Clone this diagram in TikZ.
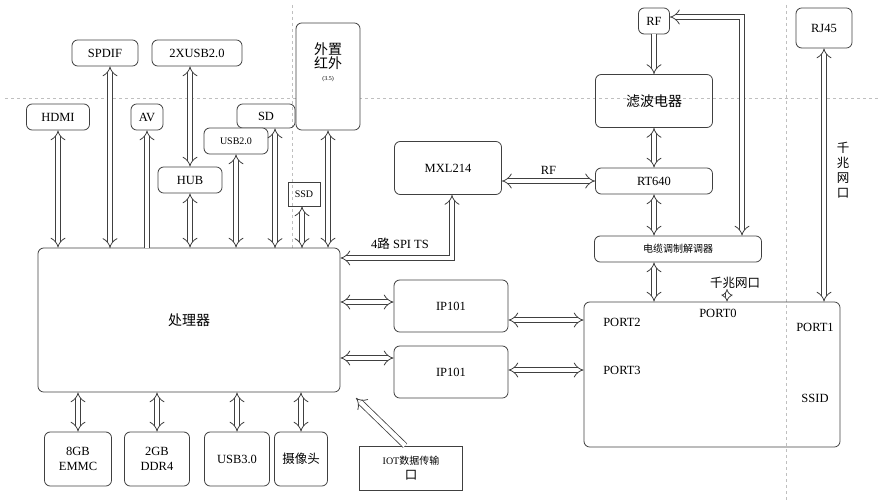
\documentclass[tikz,border=0pt]{standalone}
\usepackage{fontspec}
\setmainfont{Liberation Serif}
\newfontfamily\cjk{Noto Sans CJK SC}
\usetikzlibrary{arrows, arrows.meta, positioning}

\begin{document}
\begin{tikzpicture}[
    x=1pt, y=-1pt,
    font=\fontsize{12.5}{15}\selectfont,
    blk/.style={rectangle, rounded corners=2mm, draw=black!75, line width=0.8pt, align=center, inner sep=1pt},
    sq/.style={rectangle, draw=black!75, line width=0.8pt, align=center, inner sep=1pt},
    dbl/.style={draw=black!75, line width=0.8pt, double, double distance=4.5pt, implies-implies},
    sgl/.style={draw=black!75, line width=0.8pt, double, double distance=4.5pt, -implies},
    guide/.style={draw=gray!50, dashed, line width=0.6pt}
]
\useasboundingbox (0,0) rectangle (880,500);

% --- guide lines ---
\coordinate (g1) at (5,98);   \coordinate (g2) at (880,98);
\coordinate (g3) at (292,5);  \coordinate (g4) at (292,250);
\coordinate (g5) at (786,5);  \coordinate (g6) at (786,500);
\draw[guide] (g1) -- (g2);
\draw[guide] (g3) -- (g4);
\draw[guide] (g5) -- (g6);

% --- processor side ---
\node[blk, minimum width=302, minimum height=144] (cpu) at (189,320) {\cjk\fontsize{14}{16}\selectfont 处理器};
\node[blk, minimum width=63, minimum height=26] (hdmi) at (58,117) {HDMI};
\node[blk, minimum width=66, minimum height=26] (spdif) at (105,53) {SPDIF};
\node[blk, minimum width=90, minimum height=26] (usbx) at (197,53) {2XUSB2.0};
\node[blk, minimum width=32, minimum height=26] (av) at (147,117) {AV};
\node[blk, minimum width=58, minimum height=24] (sd) at (266,116) {SD};
\node[blk, minimum width=64, minimum height=26, fill=white] (usb2) at (236,141) {\fontsize{10}{12}\selectfont USB2.0};
\node[blk, minimum width=64, minimum height=26] (hub) at (190,180) {HUB};
\node[sq, minimum width=32, minimum height=24] (ssd) at (304,194) {\fontsize{10}{12}\selectfont SSD};
\node[blk, minimum width=64, minimum height=107, fill=white] (ir) at (328,76.5) {};
\node[align=center] (irt) at (328,62) {\cjk\fontsize{14}{18}\selectfont 外置\\[-1pt]\cjk\fontsize{14}{18}\selectfont 红外\\[-3pt]\fontsize{6}{8}\selectfont (3.5)};

\draw[dbl] (hdmi) -- (hdmi |- cpu.north);
\draw[dbl] (spdif.south -| 110,0) -- (110,248);
\draw[sgl] (147,248) -- (av);
\draw[dbl] (usbx.south -| hub) -- (hub);
\draw[dbl] (hub) -- (hub |- cpu.north);
\draw[dbl] (usb2) -- (usb2 |- cpu.north);
\draw[dbl] (sd.south -| 275,0) -- (275,248);
\draw[dbl] (ssd.south -| 302,0) -- (302,248);
\draw[dbl] (ir) -- (ir |- cpu.north);

% --- bottom ---
\node[blk, minimum width=67, minimum height=54] (emmc) at (78,459) {8GB\\EMMC};
\node[blk, minimum width=65, minimum height=54] (ddr) at (157,459) {2GB\\DDR4};
\node[blk, minimum width=65, minimum height=54] (usb3) at (237,459) {USB3.0};
\node[blk, minimum width=53, minimum height=54] (cam) at (301,459) {\cjk 摄像头};
\node[sq, minimum width=103, minimum height=44] (iot) at (411,468) {\fontsize{10}{13}\selectfont IOT\cjk 数据传输\\\cjk 口};
\draw[dbl] (emmc) -- (emmc |- cpu.south);
\draw[dbl] (ddr) -- (ddr |- cpu.south);
\draw[dbl] (usb3) -- (usb3 |- cpu.south);
\draw[dbl] (cam) -- (cam |- cpu.south);
\coordinate (iotend) at (356,398);
\draw[sgl] (iot.north -| 405,0) -- (iotend);

% --- tuner side ---
\node[blk, minimum width=107, minimum height=53] (mxl) at (448,168) {MXL214};
\node[blk, minimum width=114, minimum height=52] (ipa) at (451,306) {IP101};
\node[blk, minimum width=114, minimum height=52] (ipb) at (451,372) {IP101};
\node[blk, minimum width=256, minimum height=145] (sw) at (712,374.5) {};
\node (p2) at (622,322) {PORT2};
\node (p3) at (622,370) {PORT3};
\node (p1) at (815,327) {PORT1};
\node (ssid) at (815,398) {SSID};
\node (p0) at (718,313) {PORT0};
\node (gig) at (735,283) {\cjk 千兆网口};

\coordinate (spi) at (452,258);
\draw[dbl] (mxl.south -| spi) -- (spi) -- (cpu.east |- spi);
\node (spit) at (400,244) {4\cjk 路\rm\ SPI TS};
\draw[dbl] (cpu.east |- 0,302) -- (ipa.west |- 0,302);
\draw[dbl] (cpu.east |- 0,358) -- (ipb.west |- 0,358);
\draw[dbl] (ipa.east |- 0,320) -- (sw.west |- 0,320);
\draw[dbl] (ipb.east |- 0,370) -- (sw.west |- 0,370);

\node[blk, minimum width=31, minimum height=26] (rf) at (654,21) {RF};
\node[blk, minimum width=117, minimum height=53] (flt) at (654,101) {\cjk\fontsize{14}{16}\selectfont 滤波电器};
\node[blk, minimum width=117, minimum height=26] (rt) at (654,181) {RT640};
\node[blk, minimum width=167, minimum height=26] (modem) at (678,249) {\cjk\fontsize{10}{12}\selectfont 电缆调制解调器};
\node[blk, minimum width=56, minimum height=40] (rj) at (824,28) {RJ45};
\node[align=center] (gigv) at (843,170) {\cjk 千\\\cjk 兆\\\cjk 网\\\cjk 口};

\draw[sgl] (rf) -- (flt);
\draw[dbl] (flt) -- (rt);
\draw[dbl] (rt) -- (modem.north -| rt);
\draw[dbl] (modem.south -| rt) -- (sw.north -| rt);
\coordinate (rfc) at (742,17);
\draw[dbl] (modem.north -| rfc) -- (rfc) -- (rf.east |- rfc);
\draw[dbl] (mxl.east |- 0,181) -- (rt.west |- 0,181) node[midway, above=3pt] {RF};
\draw[dbl] (rj) -- (sw.north -| rj);
\draw[dbl, double distance=3pt] (727,289) -- (sw.north -| 727,0);
\end{tikzpicture}
\end{document}
